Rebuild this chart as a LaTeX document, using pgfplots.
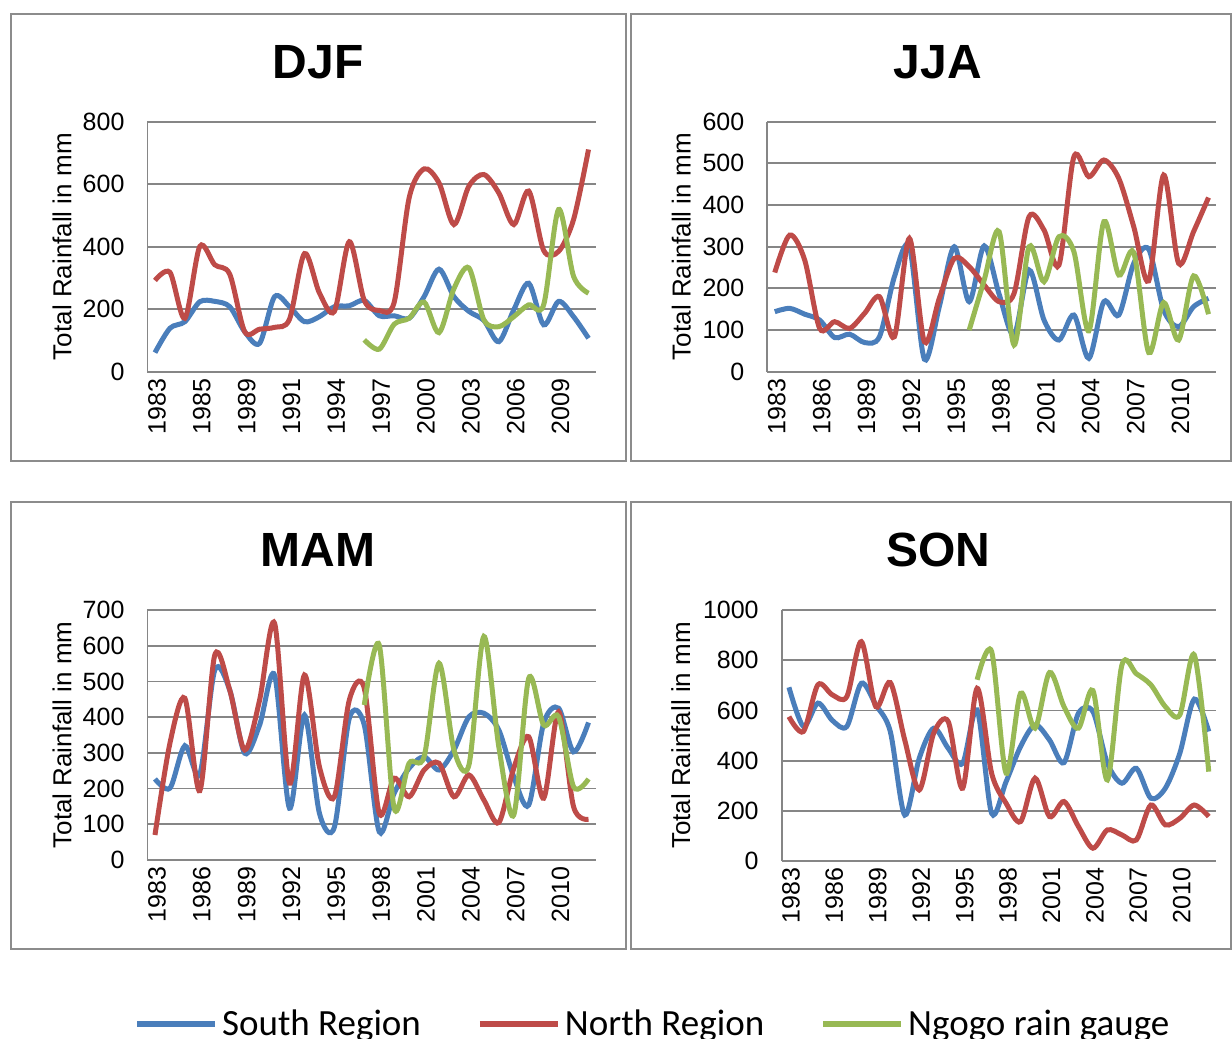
\documentclass[border=0pt]{standalone}
\usepackage{pgfplots}
\pgfplotsset{compat=1.18}
\usepackage{fontspec}
\setmainfont{Liberation Sans}
\newfontfamily\legfont{Carlito}
\definecolor{sblue}{RGB}{74,126,187}
\definecolor{nred}{RGB}{190,75,72}
\definecolor{ggreen}{RGB}{152,185,84}
\definecolor{gridgray}{RGB}{134,134,134}
\definecolor{framegray}{RGB}{140,140,140}
\pgfplotsset{
  panel/.style={
    scale only axis, anchor=south west,
    width=224.25pt, height=125pt,
    xmin=-0.5, xmax=29.5, ymin=0,
    axis lines*=left,
    axis line style={gridgray, line width=0.9pt},
    ymajorgrids, grid style={gridgray, line width=0.9pt},
    major tick length=0pt,
    xtick={0,3,...,27},
    scaled y ticks=false,
    tick label style={font=\fontsize{12.5}{14}\selectfont},
    /pgf/number format/assume math mode=true,
    /pgf/number format/1000 sep={},
    xticklabel style={rotate=90, anchor=east, yshift=-1pt},
    yticklabel style={xshift=-8pt},
    ylabel={Total Rainfall in mm},
    every axis plot/.append style={smooth, tension=0.5, line width=2.5pt, mark=none},
  },
  s/.style={sblue}, n/.style={nred}, g/.style={ggreen},
}
\begin{document}
\begin{tikzpicture}
\useasboundingbox (0,0) rectangle (616pt,519.5pt);
% frames
\draw[framegray, line width=0.9pt] (5.5pt,512.5pt) rectangle (313pt,289pt);
\draw[framegray, line width=0.9pt] (315.5pt,512.5pt) rectangle (615.5pt,289pt);
\draw[framegray, line width=0.9pt] (5.5pt,268.5pt) rectangle (313pt,45pt);
\draw[framegray, line width=0.9pt] (315.5pt,268.5pt) rectangle (615.5pt,45pt);
% titles
\node[font=\fontsize{24}{26}\selectfont\bfseries] at (159pt,488.5pt) {DJF};
\node[font=\fontsize{24}{26}\selectfont\bfseries] at (469pt,488.5pt) {JJA};
\node[font=\fontsize{24}{26}\selectfont\bfseries] at (159pt,244.5pt) {MAM};
\node[font=\fontsize{24}{26}\selectfont\bfseries] at (469pt,244.5pt) {SON};

% DJF
\begin{axis}[panel, at={(73.75pt,333.65pt)},
  ymax=800, ytick={0,200,...,800},
  xticklabels={1983,1985,1989,1991,1994,1997,2000,2003,2006,2009},
  ylabel style={font=\fontsize{13}{15}\selectfont, at={([xshift=-42.75pt]axis description cs:0,0.5)}, anchor=center}]
\addplot[s] coordinates {(0,61)(1,139)(2,160)(3,224)(4,225)(5,208)(6,128)(7,91)(8,240)(9,208)(10,160)(11,176)(12,208)(13,211)(14,228)(15,179)(16,179)(17,171)(18,240)(19,328)(20,240)(21,193)(22,164)(23,96)(24,198)(25,283)(26,150)(27,225)(28,176)(29,107)};
\addplot[n] coordinates {(0,292)(1,318)(2,171)(3,401)(4,342)(5,312)(6,128)(7,136)(8,142)(9,168)(10,378)(11,252)(12,193)(13,416)(14,228)(15,196)(16,222)(17,556)(18,649)(19,604)(20,471)(21,594)(22,631)(23,572)(24,471)(25,578)(26,388)(27,385)(28,487)(29,711)};
\addplot[g] coordinates {(14,102)(15,72)(16,152)(17,171)(18,223)(19,125)(20,266)(21,332)(22,166)(23,144)(24,176)(25,214)(26,214)(27,519)(28,305)(29,251)};
\end{axis}

% JJA
\begin{axis}[panel, at={(383.65pt,333.65pt)}, width=224.35pt,
  ymax=600, ytick={0,100,...,600},
  xticklabels={1983,1986,1989,1992,1995,1998,2001,2004,2007,2010},
  ylabel style={font=\fontsize{13}{15}\selectfont, at={([xshift=-43pt]axis description cs:0,0.5)}, anchor=center}]
\addplot[s] coordinates {(0,144)(1,152)(2,138)(3,124)(4,82)(5,90)(6,70)(7,84)(8,228)(9,300)(10,30)(11,156)(12,300)(13,168)(14,302)(15,186)(16,88)(17,244)(18,124)(19,76)(20,136)(21,32)(22,168)(23,136)(24,260)(25,294)(26,148)(27,108)(28,156)(29,176)};
\addplot[n] coordinates {(0,238)(1,328)(2,268)(3,104)(4,120)(5,104)(6,140)(7,180)(8,84)(9,320)(10,72)(11,176)(12,272)(13,252)(14,208)(15,168)(16,188)(17,372)(18,340)(19,256)(20,516)(21,468)(22,508)(23,464)(24,348)(25,218)(26,472)(27,260)(28,336)(29,418)};
\addplot[g] coordinates {(13,100)(14,220)(15,336)(16,64)(17,300)(18,216)(19,324)(20,288)(21,98)(22,360)(23,232)(24,286)(25,46)(26,166)(27,76)(28,230)(29,138)};
\end{axis}

% MAM
\begin{axis}[panel, at={(73.75pt,89.5pt)},
  ymax=700, ytick={0,100,...,700},
  xticklabels={1983,1986,1989,1992,1995,1998,2001,2004,2007,2010},
  ylabel style={font=\fontsize{13}{15}\selectfont, at={([xshift=-42.75pt]axis description cs:0,0.5)}, anchor=center}]
\addplot[s] coordinates {(0,227)(1,201)(2,320)(3,240)(4,532)(5,476)(6,299)(7,378)(8,518)(9,145)(10,406)(11,131)(12,92)(13,397)(14,378)(15,79)(16,187)(17,257)(18,289)(19,252)(20,308)(21,401)(22,411)(23,364)(24,233)(25,154)(26,383)(27,425)(28,303)(29,385)};
\addplot[n] coordinates {(0,70)(1,327)(2,453)(3,194)(4,574)(5,476)(6,308)(7,448)(8,663)(9,215)(10,518)(11,261)(12,177)(13,448)(14,481)(15,131)(16,229)(17,177)(18,252)(19,271)(20,177)(21,238)(22,168)(23,105)(24,257)(25,345)(26,173)(27,415)(28,149)(29,114)};
\addplot[g] coordinates {(14,434)(15,602)(16,145)(17,271)(18,289)(19,551)(20,308)(21,266)(22,626)(23,317)(24,126)(25,509)(26,378)(27,401)(28,205)(29,227)};
\end{axis}

% SON
\begin{axis}[panel, at={(390.85pt,89pt)}, width=217.15pt, height=125.5pt,
  ymax=1000, ytick={0,200,...,1000},
  xticklabels={1983,1986,1989,1992,1995,1998,2001,2004,2007,2010},
  ylabel style={font=\fontsize{13}{15}\selectfont, at={([xshift=-50.4pt]axis description cs:0,0.5)}, anchor=center},
  legend columns=3,
  legend style={at={(axis description cs:-1.492,-0.649)}, anchor=west, draw=none, fill=none, inner sep=0pt,
    font=\legfont\fontsize{18.5}{20}\selectfont,
    /tikz/every even column/.append style={column sep=26pt}},
  legend image code/.code={\draw[#1, line width=3pt, sharp plot] (0pt,0pt) -- (39pt,0pt);}]
\addplot[s] coordinates {(0,692)(1,536)(2,629)(3,560)(4,536)(5,708)(6,622)(7,516)(8,183)(9,409)(10,529)(11,449)(12,389)(13,602)(14,190)(15,316)(16,456)(17,542)(18,482)(19,392)(20,589)(21,595)(22,389)(23,310)(24,369)(25,250)(26,290)(27,429)(28,645)(29,516)};
\addplot[n] coordinates {(0,575)(1,516)(2,702)(3,662)(4,655)(5,874)(6,615)(7,711)(8,482)(9,283)(10,509)(11,556)(12,290)(13,688)(14,350)(15,230)(16,157)(17,330)(18,177)(19,237)(20,137)(21,51)(22,124)(23,104)(24,84)(25,223)(26,144)(27,170)(28,223)(29,177)};
\addplot[g] coordinates {(13,722)(14,835)(15,350)(16,668)(17,529)(18,751)(19,615)(20,529)(21,679)(22,323)(23,781)(24,746)(25,702)(26,615)(27,582)(28,821)(29,356)};
\legend{South Region, North Region, Ngogo rain gauge}
\end{axis}
\end{tikzpicture}
\end{document}
